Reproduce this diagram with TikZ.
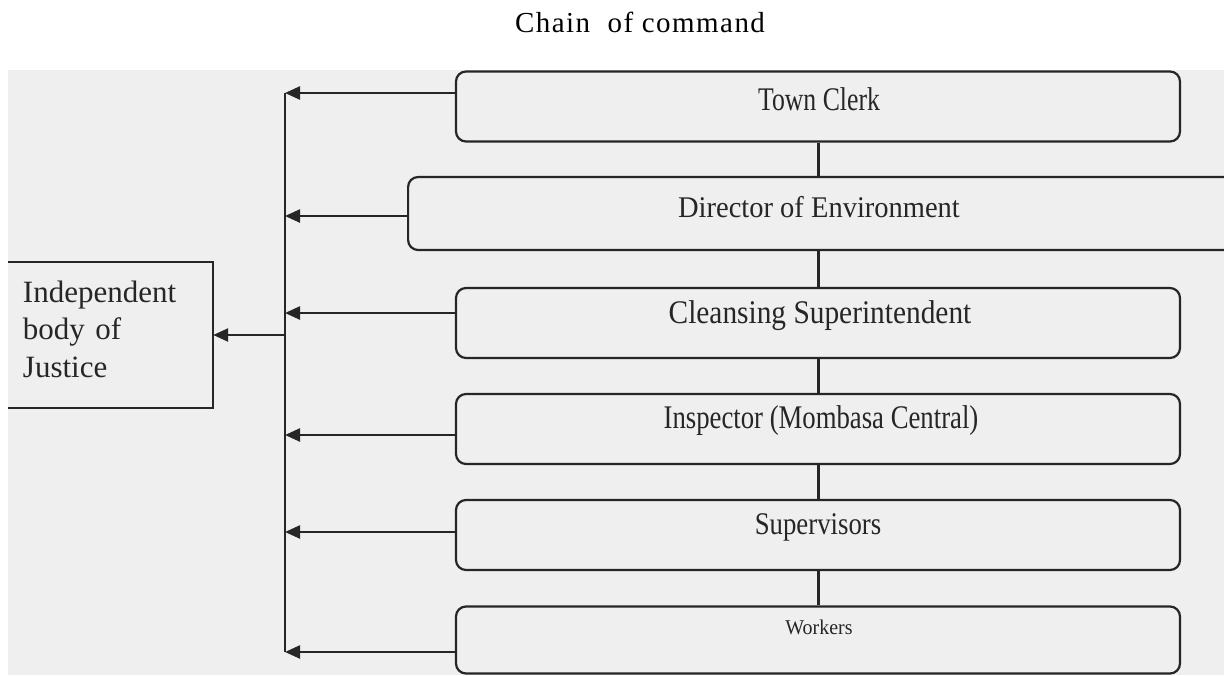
\documentclass[tikz,border=0pt]{standalone}
\usepackage{fontspec}
\setmainfont{Liberation Serif}
\usepackage{tikz}
\usetikzlibrary{arrows.meta}
\definecolor{scan}{HTML}{EFEFEF}
\definecolor{ink}{HTML}{262626}
\newcommand{\boxfont}[2]{\fontsize{#1}{#1}\selectfont\addfontfeature{FakeStretch=#2}}
\tikzset{
  level/.style={draw=ink, line width=2.2pt, rounded corners=10pt, minimum width=724pt, minimum height=70pt, inner sep=0pt},
  boxtext/.style={anchor=base, text=ink, inner sep=0pt},
  feed/.style={draw=ink, line width=2.4pt, -{Triangle[length=15pt,width=13pt]}},
  link/.style={draw=ink, line width=3pt}
}

\begin{document}
\begin{tikzpicture}[x=1pt,y=-1pt]
                % page and scanned area
                \useasboundingbox (0,0) rectangle (1224,675);
                \fill[scan] (8,70) rectangle (1224,675);
                % title
                \node[anchor=base, inner sep=0pt, font={\fontsize{29}{29}\selectfont\addfontfeature{LetterSpace=5}}] (title) at (640,32) {Chain~ of command};
                % levels
                \coordinate (axis) at (818,0);
                \node[level] (clerk) at (818,106.5) {};
                \node[level, anchor=west, minimum width=850pt, minimum height=73pt] (director) at (407,213.5) {};
                \node[level] (cleansing) at (818,323) {};
                \node[level] (inspector) at (818,429) {};
                \node[level] (supervisors) at (818,535) {};
                \node[level, minimum height=67pt] (workers) at (818,640) {};
                \node[boxtext, font=\boxfont{33}{0.78}] (clerk-t) at (819,110) {Town Clerk};
                \node[boxtext, font=\boxfont{30}{0.95}] (director-t) at (819,217) {Director of Environment};
                \node[boxtext, font=\boxfont{33}{0.89}] (cleansing-t) at (820,323) {Cleansing Superintendent};
                \node[boxtext, font=\boxfont{33}{0.81}] (inspector-t) at (821,428) {Inspector (Mombasa Central)};
                \node[boxtext, font=\boxfont{31.5}{0.85}] (supervisors-t) at (818,534) {Supervisors};
                \node[boxtext, font=\boxfont{21}{0.95}] (workers-t) at (819,634) {Workers};
                % chain of command
                \foreach \a/\b in {clerk/director, director/cleansing, cleansing/inspector, inspector/supervisors, supervisors/workers}
                  {\draw[link] (\a.south -| axis) -- (\b.north -| axis);}
                % reporting lines
                \coordinate (top) at (285,93);
                \coordinate (bottom) at (285,652);
                \draw[ink, line width=2pt] (top) -- (bottom);
                \foreach \b/\y in {clerk/93, director/216, cleansing/313, inspector/435, supervisors/532, workers/652}
                  {\draw[feed] (\b.west |- 0,\y) -- (top |- 0,\y);}
                % independent body
                \node[text width=175pt, align=left, inner xsep=15pt, minimum height=146pt, text depth=87pt, text=ink, font=\fontsize{31}{37.5}\selectfont] (justice) at (110.5,335) {Independent\\ body of\\ Justice};
                \draw[ink, line width=2pt] (justice.north west) -- (justice.north east) -- (justice.south east) -- (justice.south west);
                \draw[feed] (top |- justice.east) -- (justice.east);
\end{tikzpicture}
\end{document}
